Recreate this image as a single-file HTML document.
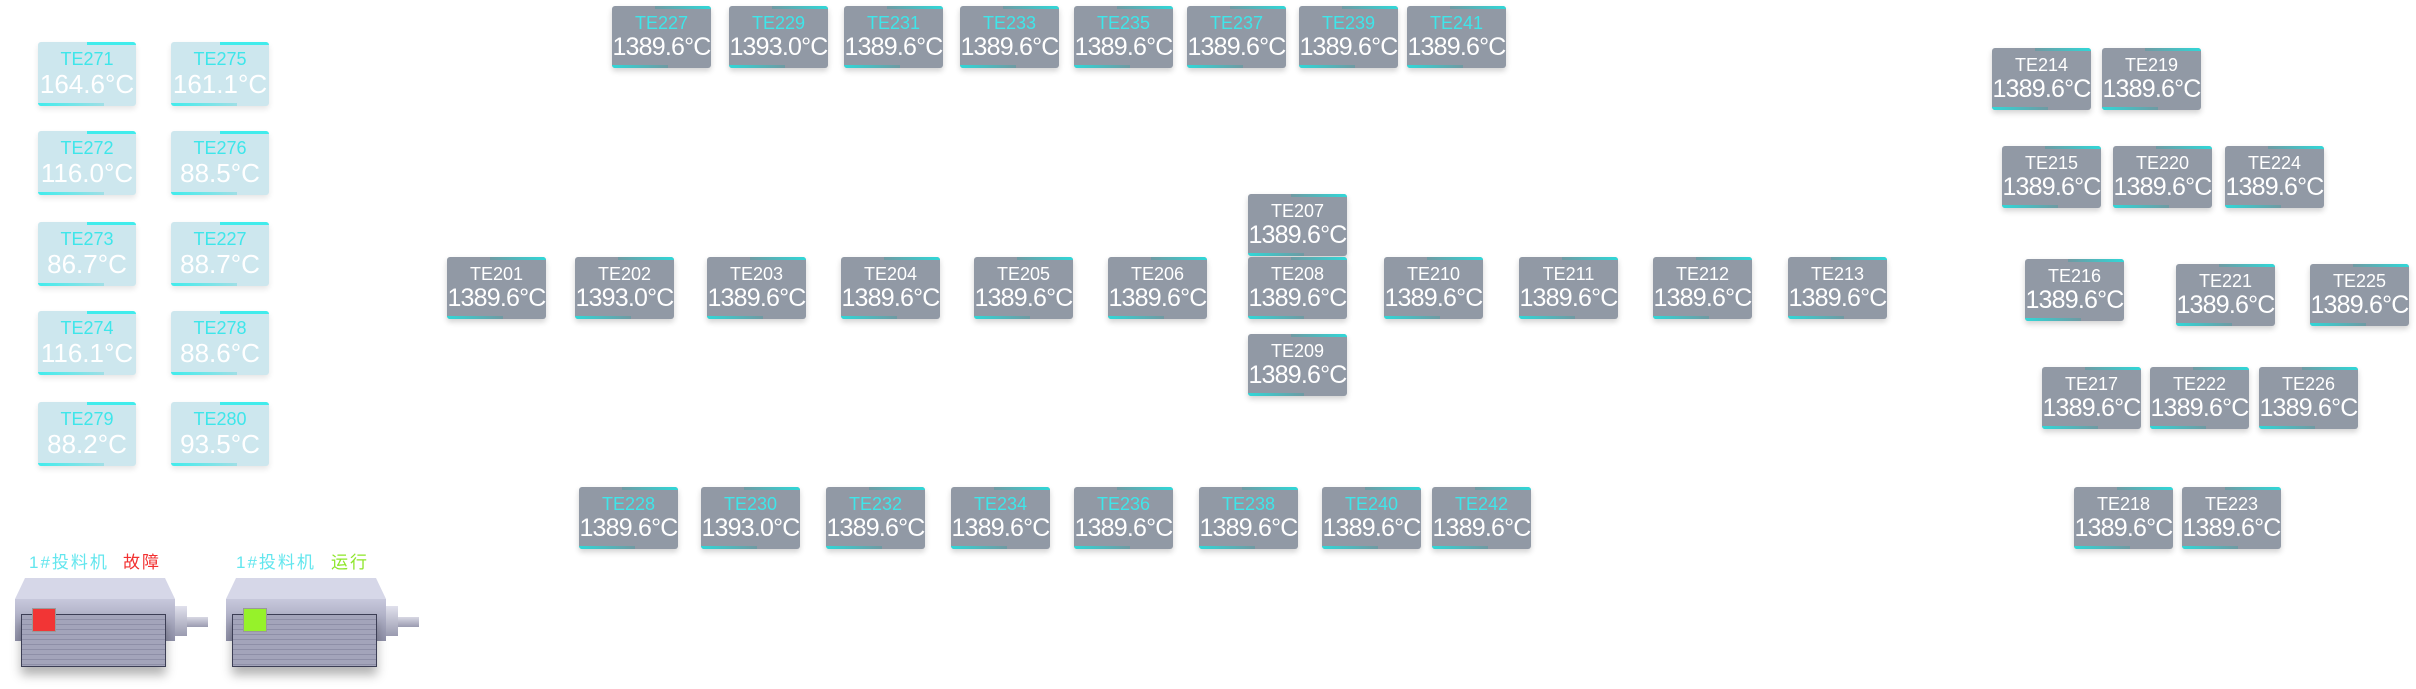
<!DOCTYPE html>
<html><head><meta charset="utf-8"><style>
body{margin:0;width:2416px;height:689px;background:#fff;position:relative;overflow:hidden;font-family:"Liberation Sans","Noto Sans CJK SC",sans-serif}
.b{position:absolute;width:99px;height:62px;background:#9199a5;border-radius:3px;box-shadow:0 3px 6px rgba(0,0,0,.18);text-align:center;color:#fff;overflow:hidden}
.b:before{content:"";position:absolute;right:0;top:0;width:57%;height:3px;background:linear-gradient(90deg,#6f9aa3,#2fd8d8)}
.b:after{content:"";position:absolute;left:0;bottom:0;width:57%;height:3px;background:linear-gradient(90deg,#2fd8d8,#6f9aa3)}
.b .t{font-size:18px;line-height:19px;margin-top:8px}
.b .v{font-size:25px;line-height:28px;letter-spacing:-0.8px;white-space:nowrap}
.c .t{color:#3ee6ea}
.l{position:absolute;width:98px;height:64px;background:#cde7ee;border-radius:3px;box-shadow:0 3px 6px rgba(0,0,0,.1);text-align:center;color:#fff;overflow:hidden}
.l:before{content:"";position:absolute;right:0;top:0;width:50%;height:3px;background:#40ecec}
.l:after{content:"";position:absolute;left:0;bottom:0;width:67%;height:3px;background:linear-gradient(90deg,#40ecec,#9fdfe6)}
.l .t{font-size:18px;line-height:19px;margin-top:8px;color:#3ee6ea}
.l .v{font-size:26px;line-height:30px}
.m{position:absolute;width:200px;height:100px}
.m div{position:absolute}
.lab{position:absolute;font-size:17px;letter-spacing:2px}
</style></head><body>
<div class="l" style="left:38px;top:42px"><div class="t">TE271</div><div class="v">164.6°C</div></div>
<div class="l" style="left:171px;top:42px"><div class="t">TE275</div><div class="v">161.1°C</div></div>
<div class="l" style="left:38px;top:131px"><div class="t">TE272</div><div class="v">116.0°C</div></div>
<div class="l" style="left:171px;top:131px"><div class="t">TE276</div><div class="v">88.5°C</div></div>
<div class="l" style="left:38px;top:222px"><div class="t">TE273</div><div class="v">86.7°C</div></div>
<div class="l" style="left:171px;top:222px"><div class="t">TE227</div><div class="v">88.7°C</div></div>
<div class="l" style="left:38px;top:311px"><div class="t">TE274</div><div class="v">116.1°C</div></div>
<div class="l" style="left:171px;top:311px"><div class="t">TE278</div><div class="v">88.6°C</div></div>
<div class="l" style="left:38px;top:402px"><div class="t">TE279</div><div class="v">88.2°C</div></div>
<div class="l" style="left:171px;top:402px"><div class="t">TE280</div><div class="v">93.5°C</div></div>

<div class="b c" style="left:612px;top:6px"><div class="t">TE227</div><div class="v">1389.6°C</div></div>
<div class="b c" style="left:729px;top:6px"><div class="t">TE229</div><div class="v">1393.0°C</div></div>
<div class="b c" style="left:844px;top:6px"><div class="t">TE231</div><div class="v">1389.6°C</div></div>
<div class="b c" style="left:960px;top:6px"><div class="t">TE233</div><div class="v">1389.6°C</div></div>
<div class="b c" style="left:1074px;top:6px"><div class="t">TE235</div><div class="v">1389.6°C</div></div>
<div class="b c" style="left:1187px;top:6px"><div class="t">TE237</div><div class="v">1389.6°C</div></div>
<div class="b c" style="left:1299px;top:6px"><div class="t">TE239</div><div class="v">1389.6°C</div></div>
<div class="b c" style="left:1407px;top:6px"><div class="t">TE241</div><div class="v">1389.6°C</div></div>

<div class="b" style="left:447px;top:257px"><div class="t">TE201</div><div class="v">1389.6°C</div></div>
<div class="b" style="left:575px;top:257px"><div class="t">TE202</div><div class="v">1393.0°C</div></div>
<div class="b" style="left:707px;top:257px"><div class="t">TE203</div><div class="v">1389.6°C</div></div>
<div class="b" style="left:841px;top:257px"><div class="t">TE204</div><div class="v">1389.6°C</div></div>
<div class="b" style="left:974px;top:257px"><div class="t">TE205</div><div class="v">1389.6°C</div></div>
<div class="b" style="left:1108px;top:257px"><div class="t">TE206</div><div class="v">1389.6°C</div></div>
<div class="b" style="left:1248px;top:194px"><div class="t">TE207</div><div class="v">1389.6°C</div></div>
<div class="b" style="left:1248px;top:257px"><div class="t">TE208</div><div class="v">1389.6°C</div></div>
<div class="b" style="left:1248px;top:334px"><div class="t">TE209</div><div class="v">1389.6°C</div></div>
<div class="b" style="left:1384px;top:257px"><div class="t">TE210</div><div class="v">1389.6°C</div></div>
<div class="b" style="left:1519px;top:257px"><div class="t">TE211</div><div class="v">1389.6°C</div></div>
<div class="b" style="left:1653px;top:257px"><div class="t">TE212</div><div class="v">1389.6°C</div></div>
<div class="b" style="left:1788px;top:257px"><div class="t">TE213</div><div class="v">1389.6°C</div></div>

<div class="b c" style="left:579px;top:487px"><div class="t">TE228</div><div class="v">1389.6°C</div></div>
<div class="b c" style="left:701px;top:487px"><div class="t">TE230</div><div class="v">1393.0°C</div></div>
<div class="b c" style="left:826px;top:487px"><div class="t">TE232</div><div class="v">1389.6°C</div></div>
<div class="b c" style="left:951px;top:487px"><div class="t">TE234</div><div class="v">1389.6°C</div></div>
<div class="b c" style="left:1074px;top:487px"><div class="t">TE236</div><div class="v">1389.6°C</div></div>
<div class="b c" style="left:1199px;top:487px"><div class="t">TE238</div><div class="v">1389.6°C</div></div>
<div class="b c" style="left:1322px;top:487px"><div class="t">TE240</div><div class="v">1389.6°C</div></div>
<div class="b c" style="left:1432px;top:487px"><div class="t">TE242</div><div class="v">1389.6°C</div></div>

<div class="b" style="left:1992px;top:48px"><div class="t">TE214</div><div class="v">1389.6°C</div></div>
<div class="b" style="left:2102px;top:48px"><div class="t">TE219</div><div class="v">1389.6°C</div></div>
<div class="b" style="left:2002px;top:146px"><div class="t">TE215</div><div class="v">1389.6°C</div></div>
<div class="b" style="left:2113px;top:146px"><div class="t">TE220</div><div class="v">1389.6°C</div></div>
<div class="b" style="left:2225px;top:146px"><div class="t">TE224</div><div class="v">1389.6°C</div></div>
<div class="b" style="left:2025px;top:259px"><div class="t">TE216</div><div class="v">1389.6°C</div></div>
<div class="b" style="left:2176px;top:264px"><div class="t">TE221</div><div class="v">1389.6°C</div></div>
<div class="b" style="left:2310px;top:264px"><div class="t">TE225</div><div class="v">1389.6°C</div></div>
<div class="b" style="left:2042px;top:367px"><div class="t">TE217</div><div class="v">1389.6°C</div></div>
<div class="b" style="left:2150px;top:367px"><div class="t">TE222</div><div class="v">1389.6°C</div></div>
<div class="b" style="left:2259px;top:367px"><div class="t">TE226</div><div class="v">1389.6°C</div></div>
<div class="b" style="left:2074px;top:487px"><div class="t">TE218</div><div class="v">1389.6°C</div></div>
<div class="b" style="left:2182px;top:487px"><div class="t">TE223</div><div class="v">1389.6°C</div></div>

<div class="lab" style="left:29px;top:548px;color:#63e6ee">1#投料机</div>
<div class="lab" style="left:123px;top:548px;color:#f23030">故障</div>
<div class="lab" style="left:236px;top:548px;color:#63e6ee">1#投料机</div>
<div class="lab" style="left:331px;top:548px;color:#8ee62a">运行</div>

<div class="m" style="left:15px;top:578px">
 <div style="left:0;top:0;height:0;border-bottom:21px solid #d6d7e8;border-left:10px solid transparent;border-right:10px solid transparent;width:140px"></div>
 <div style="left:0;top:21px;width:160px;height:42px;background:linear-gradient(#c7c8dc,#8f90a8)"></div>
 <div style="left:6px;top:36px;width:143px;height:51px;background:repeating-linear-gradient(#a3a4ba 0 4px,#8e8fa7 4px 5px);border:1px solid #3c3e55;box-shadow:0 8px 10px rgba(0,0,0,.3)"></div>
 <div style="left:17px;top:30px;width:22px;height:22px;background:#f23535;border:1px solid #999"></div>
 <div style="left:160px;top:28px;width:12px;height:30px;background:linear-gradient(#e0e0ec,#9a9bb0)"></div>
 <div style="left:172px;top:39px;width:21px;height:10px;background:linear-gradient(#d8d8e4,#9a9bb0)"></div>
</div>
<div class="m" style="left:226px;top:578px">
 <div style="left:0;top:0;height:0;border-bottom:21px solid #d6d7e8;border-left:10px solid transparent;border-right:10px solid transparent;width:140px"></div>
 <div style="left:0;top:21px;width:160px;height:42px;background:linear-gradient(#c7c8dc,#8f90a8)"></div>
 <div style="left:6px;top:36px;width:143px;height:51px;background:repeating-linear-gradient(#a3a4ba 0 4px,#8e8fa7 4px 5px);border:1px solid #3c3e55;box-shadow:0 8px 10px rgba(0,0,0,.3)"></div>
 <div style="left:17px;top:30px;width:22px;height:22px;background:#96f22a;border:1px solid #999"></div>
 <div style="left:160px;top:28px;width:12px;height:30px;background:linear-gradient(#e0e0ec,#9a9bb0)"></div>
 <div style="left:172px;top:39px;width:21px;height:10px;background:linear-gradient(#d8d8e4,#9a9bb0)"></div>
</div>
</body></html>
